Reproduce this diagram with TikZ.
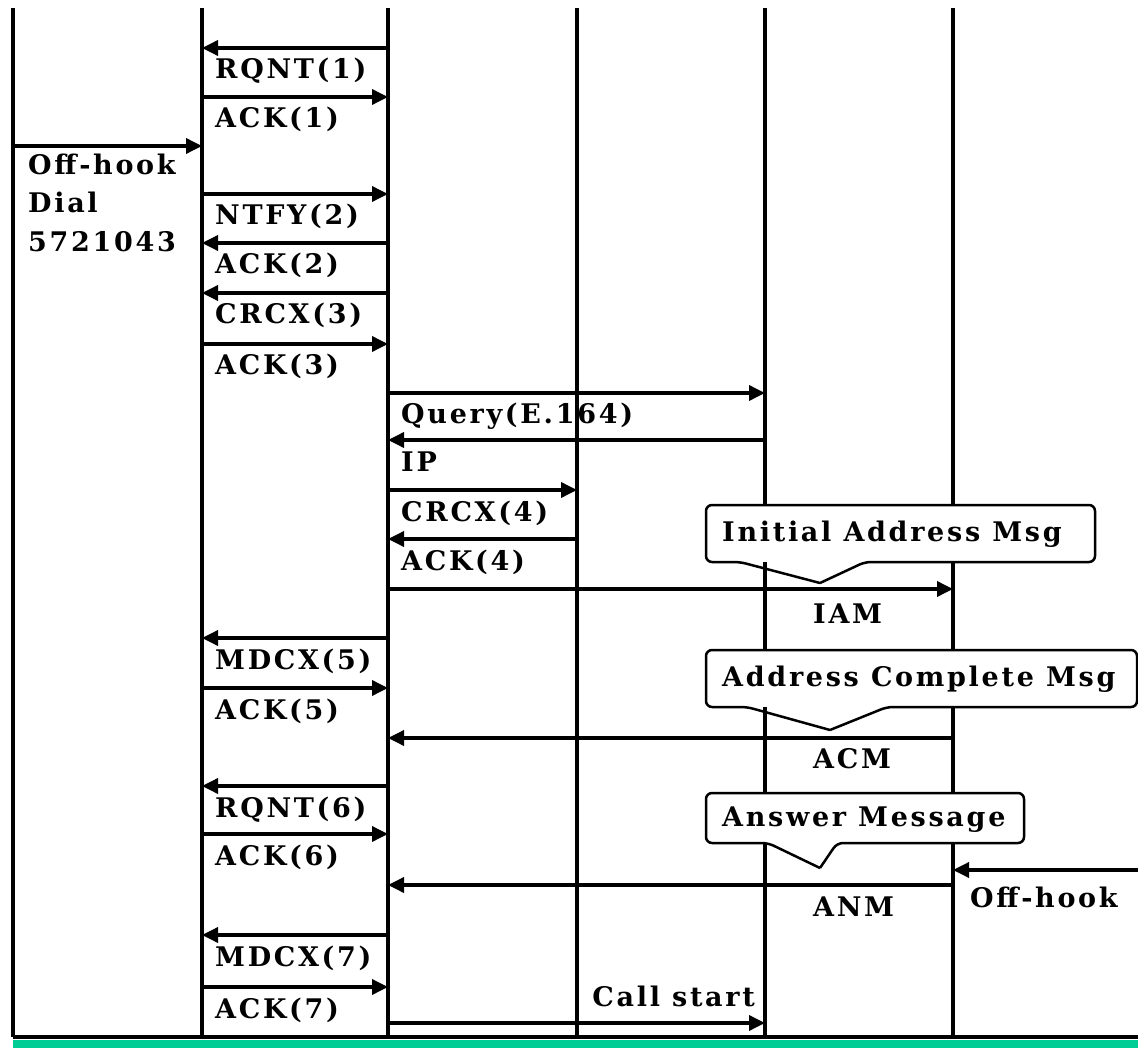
\documentclass[tikz,border=0pt]{standalone}
\usepackage{fontspec}
\setmainfont{DejaVu Serif}[LetterSpace=10]
\usetikzlibrary{arrows.meta}
\definecolor{band}{RGB}{0,204,150}

\begin{document}
\begin{tikzpicture}[x=1pt, y=-1pt, >={Triangle[length=16pt,width=15pt]}]
    \tikzstyle{life} = [line width=3.5pt]
    \tikzstyle{msg} = [->, line width=3.5pt]
    \tikzstyle{lbl} = [anchor=base west, inner sep=0pt, font=\fontsize{27}{39}\selectfont\bfseries]
    \tikzstyle{bubble} = [line width=2.5pt, rounded corners=6pt]

    \useasboundingbox (0,0) rectangle (1138,1048);

    % Lifelines
    \foreach \n/\x in {phone/13, rgw/202, agent/388, tgw/577, dir/765, pstn/953} {
        \coordinate (\n) at (\x,8);
        \coordinate (\n-end) at (\x,1037);
        \draw[life] (\n) -- (\n-end);
    }

    % Gateway <-> call agent messages
    \foreach \src/\dst/\side/\y/\txt in {
            agent/rgw/rgw/48/RQNT(1), rgw/agent/rgw/97/ACK(1),
            rgw/agent/rgw/194/NTFY(2), agent/rgw/rgw/243/ACK(2),
            agent/rgw/rgw/293/CRCX(3), rgw/agent/rgw/344/ACK(3),
            agent/dir/agent/393/Query(E.164), dir/agent/agent/440/IP,
            agent/tgw/agent/490/CRCX(4), tgw/agent/agent/539/ACK(4),
            agent/rgw/rgw/638/MDCX(5), rgw/agent/rgw/688/ACK(5),
            agent/rgw/rgw/786/RQNT(6), rgw/agent/rgw/834/ACK(6),
            agent/rgw/rgw/935/MDCX(7), rgw/agent/rgw/987/ACK(7)} {
        \draw[msg] (\src |- 0,\y) -- (\dst |- 0,\y);
        \node[lbl, xshift=13pt] (m\y) at (\side |- 0,\y+31) {\txt};
    }

    % Phone side
    \draw[msg] (phone |- 0,146) -- (rgw |- 0,146);
    \node[lbl] (offhook) at (28,175) {Off-hook};
    \node[lbl] (dial) at (28,213) {Dial};
    \node[lbl] (number) at (28,252) {5721043};

    % Trunk side
    \draw[msg] (agent |- 0,589) -- (pstn |- 0,589);
    \node[lbl] (iam) at (813,623) {IAM};
    \draw[msg] (pstn |- 0,738) -- (agent |- 0,738);
    \node[lbl] (acm) at (813,768) {ACM};
    \coordinate (far) at (1138,870);
    \draw[msg] (far) -- (pstn |- far);
    \node[lbl] (answer) at (970,907) {Off-hook};
    \draw[msg] (pstn |- 0,885) -- (agent |- 0,885);
    \node[lbl] (anm) at (813,916) {ANM};
    \draw[msg] (agent |- 0,1023) -- (dir |- 0,1023);
    \node[lbl, anchor=base east] (callstart) at (755,1006) {Call start};

    % Callouts
    \fill[white] (706,505) rectangle (1095,562);
    \draw[bubble] (820,583) -- (865,562) -- (1095,562) -- (1095,505) -- (706,505) -- (706,562) -- (740,562) -- (820,583);
    \node[lbl] (iamnote) at (722,541) {Initial Address Msg};

    \fill[white] (706,650) rectangle (1137,707);
    \draw[bubble] (830,730) -- (887,707) -- (1137,707) -- (1137,650) -- (706,650) -- (706,707) -- (747,707) -- (830,730);
    \node[lbl] (acmnote) at (722,686) {Address Complete Msg};

    \fill[white] (706,793) rectangle (1024,843);
    \draw[bubble] (820,868) -- (837,843) -- (1024,843) -- (1024,793) -- (706,793) -- (706,843) -- (768,843) -- (820,868);
    \node[lbl] (anmnote) at (722,826) {Answer Message};

    % Bottom edge
    \coordinate (corner) at (1138,1037);
    \draw[line width=3.5pt] (phone-end) -- (corner);
    \fill[band] (13,1040) rectangle (1138,1048);
\end{tikzpicture}
\end{document}
